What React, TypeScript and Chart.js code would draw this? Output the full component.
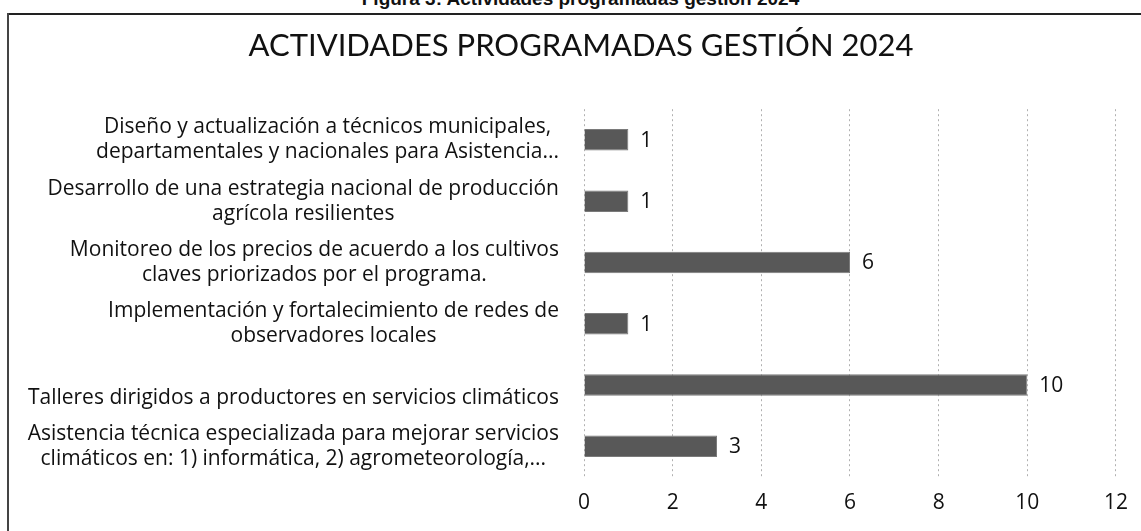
import React, { useEffect, useRef } from "react";
import { Chart, registerables } from "chart.js";

Chart.register(...registerables);

const caption = "Figura 3: Actividades programadas gestión 2024";
const chartTitle = "ACTIVIDADES PROGRAMADAS GESTIÓN 2024";

const categories: string[][] = [
  ["Diseño y actualización a técnicos municipales,", "departamentales y nacionales para Asistencia..."],
  ["Desarrollo de una estrategia nacional de producción", "agrícola resilientes"],
  ["Monitoreo de los precios de acuerdo a los cultivos", "claves priorizados por el programa."],
  ["Implementación y fortalecimiento de redes de", "observadores locales"],
  ["", "Talleres dirigidos a productores en servicios climáticos"],
  ["Asistencia técnica especializada para mejorar servicios", "climáticos en: 1) informática, 2) agrometeorología,..."],
];
const values = [1, 1, 6, 1, 10, 3];
const xMin = 0;
const xMax = 12;
const xStep = 2;

const FONT = "'Open Sans', sans-serif";
const TITLE_FONT = "Lato, 'Open Sans', sans-serif";
const LABEL_SIZE = 21;
const LINE_H = 25;
const LABEL_GAP = 25;
const VALUE_SIZE = 21;

const labelPlugin = {
  id: "customLabels",
  afterDatasetsDraw(chart: any) {
    const { ctx, scales, chartArea } = chart;
    const x = scales.x;
    const y = scales.y;
    ctx.save();
    ctx.fillStyle = "#111";
    ctx.textBaseline = "middle";
    ctx.font = `${LABEL_SIZE}px ${FONT}`;
    ctx.textAlign = "center";
    categories.forEach((lines, i) => {
      const cy = y.getPixelForValue(i);
      const maxW = Math.max(...lines.map((l) => ctx.measureText(l).width));
      const cx = chartArea.left - LABEL_GAP - maxW / 2;
      const n = lines.length;
      lines.forEach((l, k) => {
        ctx.fillText(l, cx, cy + (k - (n - 1) / 2) * LINE_H);
      });
    });
    ctx.font = `${VALUE_SIZE}px ${FONT}`;
    ctx.textAlign = "left";
    values.forEach((v, i) => {
      ctx.fillText(String(v), x.getPixelForValue(v) + 12, y.getPixelForValue(i) + 1);
    });
    ctx.restore();
  },
};

export default function App() {
  const ref = useRef<HTMLCanvasElement | null>(null);

  useEffect(() => {
    if (!ref.current) return;
    const chart = new Chart(ref.current, {
      type: "bar",
      data: {
        labels: categories,
        datasets: [
          {
            data: values,
            backgroundColor: "#585858",
            borderColor: "#7a7a7a",
            borderWidth: 1,
            categoryPercentage: 1,
            barPercentage: 0.35,
          },
        ],
      },
      options: {
        indexAxis: "y",
        animation: false,
        responsive: false,
        layout: { padding: { left: 45, right: 24, top: 16, bottom: 0 } },
        plugins: {
          legend: { display: false },
          tooltip: { enabled: false },
          title: {
            display: true,
            text: chartTitle,
            color: "#111",
            font: { family: TITLE_FONT, size: 31, weight: "normal", lineHeight: 1.2 },
            padding: { top: 11, bottom: 45 },
          },
        },
        scales: {
          x: {
            min: xMin,
            max: xMax,
            ticks: {
              stepSize: xStep,
              color: "#111",
              padding: 13,
              font: { family: FONT, size: 21 },
            },
            grid: { color: "#b0b0b0", lineWidth: 1, drawTicks: false },
            border: { display: false, dash: [2, 3] },
            afterFit: (s: any) => {
              s.height = 54;
            },
          },
          y: {
            ticks: { display: false },
            grid: { display: false, drawTicks: false },
            border: { display: false },
            afterFit: (s: any) => {
              s.width = 539;
            },
          },
        },
      },
      plugins: [labelPlugin],
    });
    return () => chart.destroy();
  }, []);

  return (
    <div style={{ position: "absolute", left: 0, top: 0, width: 1141, height: 531, overflow: "hidden", background: "#fff" }}>
      <div
        style={{
          position: "absolute",
          left: 10,
          top: -11,
          width: 1141,
          textAlign: "center",
          font: "bold 19px 'Liberation Sans', Arial, sans-serif",
          lineHeight: "19px",
          color: "#111",
        }}
      >
        {caption}
      </div>
      <canvas ref={ref} width={1141} height={531} style={{ position: "absolute", left: 0, top: 0, width: 1141, height: 531 }} />
      <div style={{ position: "absolute", left: 7, top: 13, width: 1134, height: 2, background: "#222" }} />
      <div style={{ position: "absolute", left: 7, top: 13, width: 2, height: 518, background: "#444" }} />
    </div>
  );
}
